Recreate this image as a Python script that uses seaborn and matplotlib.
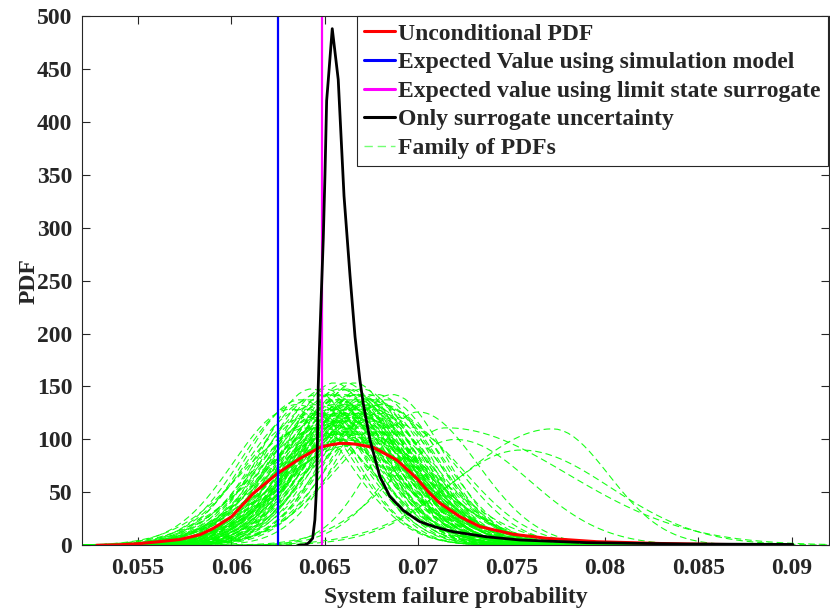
import numpy as np
import pandas as pd
import matplotlib
matplotlib.use("Agg")
import matplotlib.pyplot as plt
from matplotlib.lines import Line2D
import seaborn as sns

# ---------------- data ----------------
# Unconditional PDF (red)
red_x = [0.05279, 0.05403, 0.05501, 0.05618, 0.05725, 0.05832, 0.05903, 0.06001,
         0.06117, 0.06248, 0.06367, 0.06474, 0.06528, 0.06581, 0.06624, 0.06671,
         0.06759, 0.06885, 0.06992, 0.07063, 0.07117, 0.07224, 0.07331, 0.07509,
         0.07688, 0.07955, 0.08294, 0.08615, 0.08901]
red_y = [0.0, 0.5, 1.5, 3.5, 5.5, 10.0, 16.0, 27.0,
         49.0, 68.0, 82.0, 92.5, 94.8, 96.3, 96.2, 95.4,
         92.5, 80.6, 63.3, 49.0, 39.7, 27.0, 17.6, 10.4,
         6.6, 3.4, 1.7, 0.8, 0.3]

# Only surrogate uncertainty (black)
black_x = [0.06358, 0.06394, 0.06412, 0.06435, 0.06447, 0.06456, 0.06462, 0.06465,
           0.06471, 0.06482, 0.06492, 0.06501, 0.06510, 0.06519, 0.06540, 0.06572,
           0.06603, 0.06635, 0.06662, 0.06688, 0.06706, 0.06742, 0.06795, 0.06849,
           0.06920, 0.06974, 0.07009, 0.07063, 0.07117, 0.07188, 0.07367, 0.07545,
           0.07902, 0.08437, 0.09006]
black_y = [0.0, 0.5, 2.0, 6.6, 24.0, 55.0, 112.0, 150.0,
           185.0, 240.0, 290.0, 350.0, 420.0, 440.0, 488.0, 440.0,
           330.0, 255.0, 197.0, 156.0, 134.0, 99.5, 64.8, 46.0,
           33.0, 26.4, 22.3, 19.0, 16.0, 12.8, 8.0, 5.0,
           2.5, 1.2, 0.8]

# Expected values (vertical lines)
ev_simulation = 0.0625
ev_surrogate = 0.06485

# Family of PDFs: main bundle (centre and spread, x1e-3)
bundle_mean = [63.5, 63.9, 64.2, 64.4, 64.6, 64.7, 64.9, 65.0, 65.1, 65.2,
               65.3, 65.4, 65.5, 65.5, 65.6, 65.7, 65.8, 65.8, 65.9, 66.0,
               66.0, 66.1, 66.1, 66.2, 66.2, 66.3, 66.3, 66.4, 66.4, 66.5,
               66.5, 66.6, 66.6, 66.7, 66.7, 66.8, 66.8, 66.9, 67.0, 67.0,
               67.1, 67.2, 67.3, 67.4, 67.5, 67.6, 67.8, 68.0, 68.3, 68.6,
               64.8, 65.6, 66.0, 66.4, 66.9, 67.3, 65.2, 66.6, 65.9, 67.1,
               68.0, 69.0,
               63.2, 63.7, 64.0, 64.3, 64.5, 64.9, 65.1, 65.4, 65.7, 65.9,
               66.1, 66.3, 66.5, 66.7, 66.9, 67.1, 67.4, 67.7, 68.1, 68.4,
               64.1, 64.6, 65.0, 65.3, 65.8, 66.2, 66.6, 67.0, 67.5, 68.8]
bundle_sd = [3.0, 3.1, 2.9, 3.2, 2.8, 3.3, 3.0, 2.7, 3.1, 2.9,
             3.4, 2.8, 3.0, 2.6, 3.2, 2.9, 3.1, 2.7, 3.3, 3.0,
             2.8, 3.2, 2.6, 3.0, 3.4, 2.9, 2.7, 3.1, 3.3, 2.8,
             3.0, 2.6, 3.2, 2.9, 3.5, 2.8, 3.1, 3.0, 2.7, 3.3,
             2.9, 3.2, 2.8, 3.0, 3.1, 2.9, 2.8, 3.0, 2.9, 2.8,
             3.6, 3.8, 4.0, 3.7, 3.9, 4.1, 3.5, 4.2, 3.8, 3.6,
             3.2, 3.5,
             3.1, 2.9, 3.3, 2.7, 3.0, 3.2, 2.8, 3.1, 2.9, 3.4,
             2.7, 3.1, 3.3, 2.8, 3.2, 3.0, 2.9, 3.3, 3.0, 3.1,
             3.6, 3.4, 3.9, 3.5, 3.7, 4.0, 3.6, 3.8, 3.4, 3.3]
# Family of PDFs: outlying members (mode, peak, left / right spread)
outlier_mode = [0.0772, 0.0715, 0.0755, 0.0700, 0.0720]
outlier_peak = [110.0, 111.0, 90.0, 126.0, 100.0]
outlier_sd_left = [0.0048, 0.0030, 0.0040, 0.0025, 0.0035]
outlier_sd_right = [0.0030, 0.0065, 0.0048, 0.0032, 0.0040]

legend_labels = ["Unconditional PDF",
                 "Expected Value using simulation model",
                 "Expected value using limit state surrogate",
                 "Only surrogate uncertainty",
                 "Family of PDFs"]
x_ticks = [0.055, 0.06, 0.065, 0.07, 0.075, 0.08, 0.085, 0.09]
x_tick_labels = ["0.055", "0.06", "0.065", "0.07", "0.075", "0.08", "0.085", "0.09"]
y_ticks = [0, 50, 100, 150, 200, 250, 300, 350, 400, 450, 500]

# ---------------- build tables ----------------
fam_rows = []
cid = 0
for m, s in zip(bundle_mean, bundle_sd):
    m *= 1e-3
    s *= 1e-3
    xs = np.linspace(m - 4.5 * s, m + 4.5 * s, 90)
    ys = np.exp(-0.5 * ((xs - m) / s) ** 2) / (s * np.sqrt(2 * np.pi))
    fam_rows.append(pd.DataFrame({"x": xs, "pdf": ys, "curve": cid}))
    cid += 1
for m, p, sl, sr in zip(outlier_mode, outlier_peak, outlier_sd_left, outlier_sd_right):
    xs = np.linspace(m - 4.0 * sl, m + 4.0 * sr, 110)
    sd = np.where(xs < m, sl, sr)
    ys = p * np.exp(-0.5 * ((xs - m) / sd) ** 2)
    fam_rows.append(pd.DataFrame({"x": xs, "pdf": ys, "curve": cid}))
    cid += 1
fam_df = pd.concat(fam_rows, ignore_index=True)
red_df = pd.DataFrame({"x": red_x, "pdf": red_y})
black_df = pd.DataFrame({"x": black_x, "pdf": black_y})

# ---------------- style ----------------
sns.set_style("ticks")
plt.rcParams["font.family"] = ["Liberation Serif", "DejaVu Serif"]
plt.rcParams["font.weight"] = "bold"
plt.rcParams["axes.labelweight"] = "bold"
axis_col = "#262626"
fs = 17

fig = plt.figure(figsize=(8.3, 6.12), dpi=100)
ax = fig.add_axes([0.0988, 0.109, 0.9, 0.8649])

green = (0.0, 1.0, 0.0)
sns.lineplot(data=fam_df, x="x", y="pdf", units="curve", estimator=None,
             color=green, lw=0.8, linestyle=(0, (6, 3.5)), alpha=0.9,
             legend=False, ax=ax, sort=False)
sns.lineplot(data=red_df, x="x", y="pdf", color="#ff0000", lw=2.2, ax=ax,
             sort=False, legend=False)
ax.axvline(ev_simulation, color="#0000ff", lw=1.6)
ax.axvline(ev_surrogate, color="#ff00ff", lw=1.6)
sns.lineplot(data=black_df, x="x", y="pdf", color="black", lw=2.0, ax=ax,
             sort=False, legend=False)

ax.set_xlim(0.052, 0.092)
ax.set_ylim(0, 500)
ax.set_xticks(x_ticks)
ax.set_xticklabels(x_tick_labels)
ax.set_yticks(y_ticks)
ax.set_xlabel("System failure probability", fontsize=fs, fontweight="bold",
              color=axis_col, labelpad=6)
ax.set_ylabel("PDF", fontsize=fs, fontweight="bold", color=axis_col, labelpad=-2)
ax.tick_params(direction="in", length=5.5, width=0.8, colors=axis_col,
               labelsize=fs, top=True, right=True)
ax.tick_params(axis="x", pad=9)
ax.tick_params(axis="y", pad=7)
for lab in ax.get_xticklabels() + ax.get_yticklabels():
    lab.set_fontweight("bold")
for sp in ax.spines.values():
    sp.set_visible(True)
    sp.set_color(axis_col)
    sp.set_linewidth(0.8)

handles = [Line2D([], [], color="#ff0000", lw=2.2),
           Line2D([], [], color="#0000ff", lw=2.2),
           Line2D([], [], color="#ff00ff", lw=2.2),
           Line2D([], [], color="black", lw=2.2),
           Line2D([], [], color=(0.45, 1.0, 0.45), lw=1.0, linestyle=(0, (6, 3.5)))]
leg = ax.legend(handles, legend_labels, loc="upper right", bbox_to_anchor=(0.998, 1.0),
                borderaxespad=0.0, prop={"weight": "bold", "size": fs},
                handlelength=1.3, handletextpad=0.12, labelspacing=0.3,
                borderpad=0.3, fancybox=False, framealpha=1.0)
leg.get_frame().set_edgecolor(axis_col)
leg.get_frame().set_linewidth(0.8)

fig.savefig("out.png", dpi=100)
